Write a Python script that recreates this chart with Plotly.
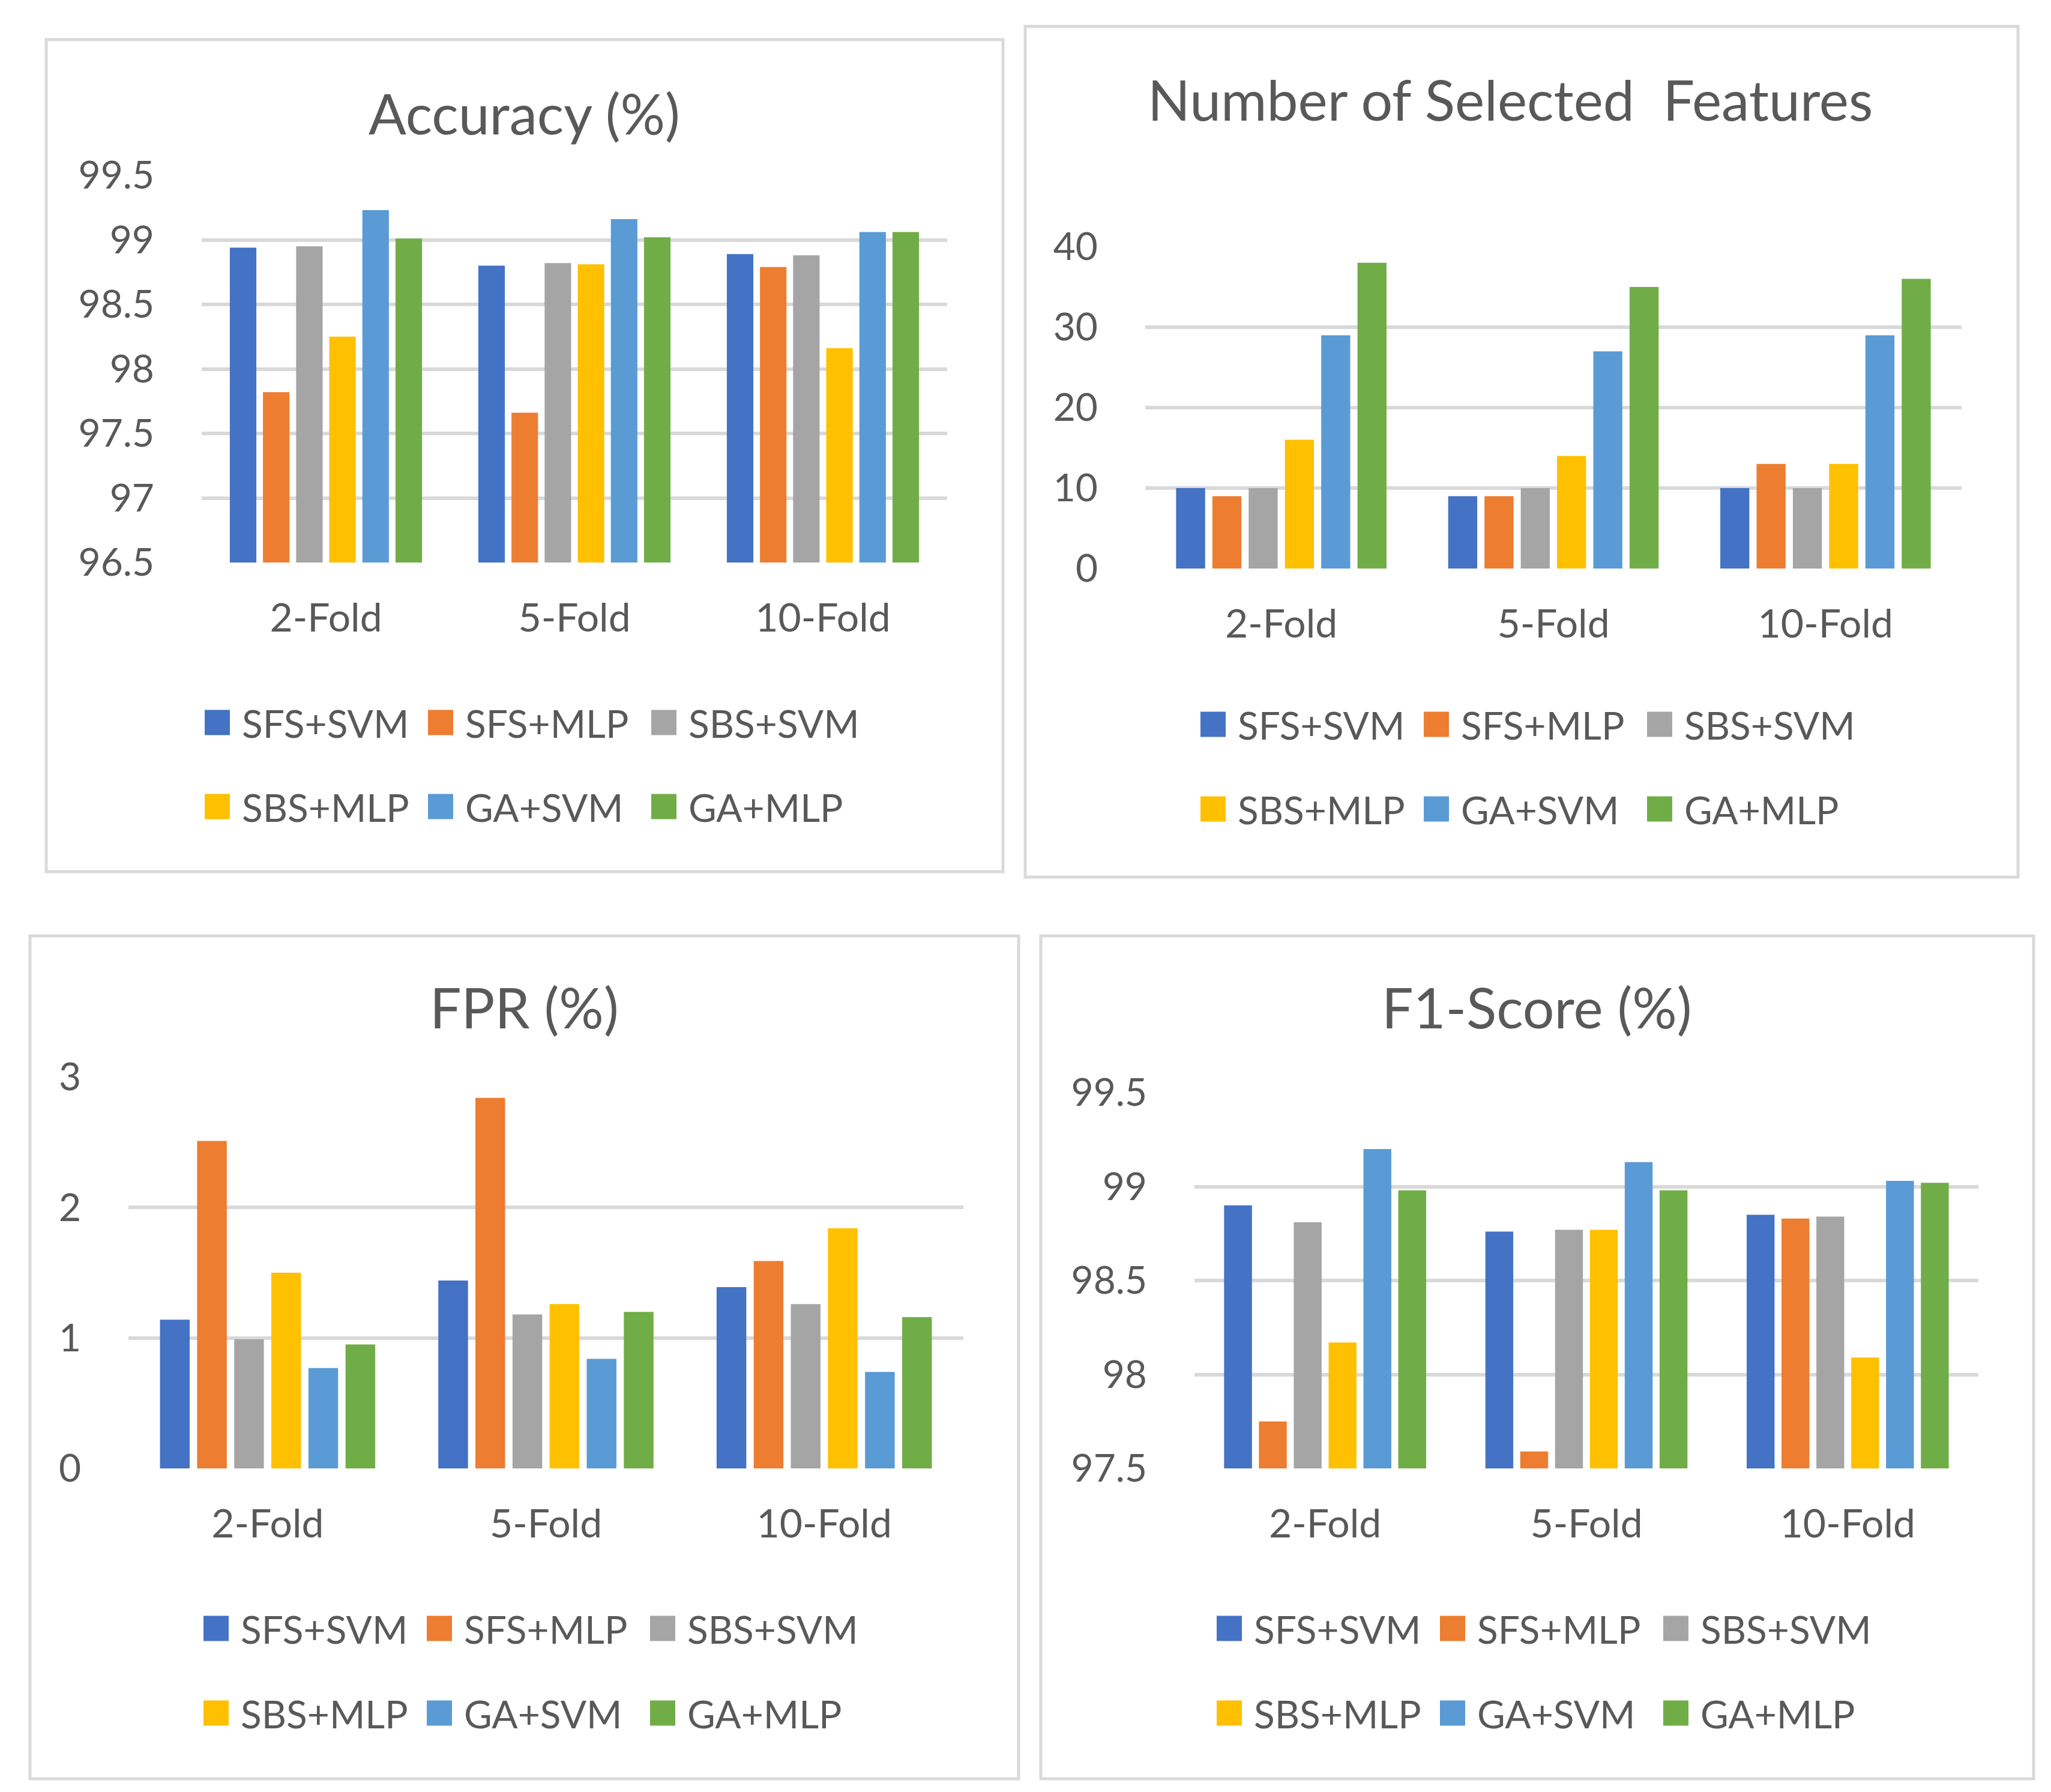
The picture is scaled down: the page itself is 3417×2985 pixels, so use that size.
import plotly.graph_objects as go

W, H = 3417, 2985

categories = ["2-Fold", "5-Fold", "10-Fold"]
methods = ["SFS+SVM", "SFS+MLP", "SBS+SVM", "SBS+MLP", "GA+SVM", "GA+MLP"]
colors = ["#4472C4", "#ED7D31", "#A5A5A5", "#FFC000", "#5B9BD5", "#70AD47"]

# values per method, in category order [2-Fold, 5-Fold, 10-Fold]
accuracy = [
    [98.94, 98.80, 98.89],  # SFS+SVM
    [97.82, 97.66, 98.79],  # SFS+MLP
    [98.95, 98.82, 98.88],  # SBS+SVM
    [98.25, 98.81, 98.16],  # SBS+MLP
    [99.23, 99.16, 99.06],  # GA+SVM
    [99.01, 99.02, 99.06],  # GA+MLP
]
features = [
    [10, 9, 10],
    [9, 9, 13],
    [10, 10, 10],
    [16, 14, 13],
    [29, 27, 29],
    [38, 35, 36],
]
fpr = [
    [1.14, 1.44, 1.39],
    [2.51, 2.84, 1.59],
    [0.99, 1.18, 1.26],
    [1.50, 1.26, 1.84],
    [0.77, 0.84, 0.74],
    [0.95, 1.20, 1.16],
]
f1 = [
    [98.90, 98.76, 98.85],
    [97.75, 97.59, 98.83],
    [98.81, 98.77, 98.84],
    [98.17, 98.77, 98.09],
    [99.20, 99.13, 99.03],
    [98.98, 98.98, 99.02],
]

acc_ticks = [96.5, 97, 97.5, 98, 98.5, 99, 99.5]
acc_ticktext = ["96.5", "97", "97.5", "98", "98.5", "99", "99.5"]
feat_ticks = [0, 10, 20, 30, 40]
feat_ticktext = ["0", "10", "20", "30", "40"]
fpr_ticks = [0, 1, 2, 3]
fpr_ticktext = ["0", "1", "2", "3"]
f1_ticks = [97.5, 98, 98.5, 99, 99.5]
f1_ticktext = ["97.5", "98", "98.5", "99", "99.5"]

titles = ["Accuracy (%)", "Number of Selected  Features", "FPR (%)", "F1-Score (%)"]

TEXT = "#595959"
GRID = "#D9D9D9"
FONT = "Lato, Carlito, sans-serif"


def fx(x):
    return x / W


def fy(y):
    return 1 - y / H


panels = [
    dict(data=accuracy, tv=acc_ticks, tt=acc_ticktext, rng=[96.5, 99.5],
         box=(77, 66, 1671, 1452), plot=(336, 292, 1578, 937), title_xy=(874, 188),
         leg_x=321, leg_rows=(1204, 1344)),
    dict(data=features, tv=feat_ticks, tt=feat_ticktext, rng=[0, 40],
         box=(1708, 44, 3362, 1461), plot=(1908, 411, 3268, 947), title_xy=(2516, 165),
         leg_x=1980, leg_rows=(1207, 1348)),
    dict(data=fpr, tv=fpr_ticks, tt=fpr_ticktext, rng=[0, 3],
         box=(50, 1559, 1697, 2963), plot=(214, 1794, 1605, 2446), title_xy=(873, 1677),
         leg_x=319, leg_rows=(2713, 2854)),
    dict(data=f1, tv=f1_ticks, tt=f1_ticktext, rng=[97.5, 99.5],
         box=(1734, 1559, 3388, 2963), plot=(1990, 1820, 3296, 2446), title_xy=(2560, 1677),
         leg_x=2007, leg_rows=(2713, 2854)),
]

fig = go.Figure()
layout = dict(
    width=W, height=H,
    margin=dict(l=0, r=0, t=0, b=0, pad=0, autoexpand=False),
    paper_bgcolor="white", plot_bgcolor="white",
    font=dict(family=FONT, color=TEXT, size=64),
    barmode="group", bargap=0.2, bargroupgap=0.2,
    showlegend=True,
)
shapes = []
annotations = []

for i, p in enumerate(panels):
    n = i + 1
    xa = "x" if n == 1 else f"x{n}"
    ya = "y" if n == 1 else f"y{n}"
    for j, m in enumerate(methods):
        k = 2 * i + (j // 3) + 1
        leg = "legend" if k == 1 else f"legend{k}"
        fig.add_trace(go.Bar(
            x=categories, y=p["data"][j], name=m,
            marker=dict(color=colors[j], line=dict(width=0)),
            xaxis=xa, yaxis=ya, legend=leg,
        ))
    x0, y0, x1, y1 = p["plot"]
    layout["xaxis" if n == 1 else f"xaxis{n}"] = dict(
        domain=[fx(x0), fx(x1)], anchor=ya, type="category",
        showgrid=False, showline=False, zeroline=False, ticks="",
        tickfont=dict(size=66, color=TEXT), ticklabelstandoff=48,
        automargin=False, fixedrange=True,
    )
    layout["yaxis" if n == 1 else f"yaxis{n}"] = dict(
        domain=[fy(y1), fy(y0)], anchor=xa, range=p["rng"],
        tickvals=p["tv"], ticktext=p["tt"],
        showgrid=True, gridcolor=GRID, gridwidth=6,
        showline=False, zeroline=False, ticks="",
        tickfont=dict(size=64, color=TEXT), ticklabelstandoff=78,
        automargin=False, fixedrange=True,
    )
    bx0, by0, bx1, by1 = p["box"]
    shapes.append(dict(type="rect", xref="paper", yref="paper",
                       x0=fx(bx0), x1=fx(bx1), y0=fy(by1), y1=fy(by0),
                       line=dict(color=GRID, width=5), fillcolor="rgba(0,0,0,0)",
                       layer="below"))
    tx, ty = p["title_xy"]
    annotations.append(dict(text=titles[i], xref="paper", yref="paper",
                            x=fx(tx), y=fy(ty), xanchor="center", yanchor="middle",
                            showarrow=False, font=dict(size=93, color=TEXT, family=FONT)))
    for r in range(2):
        k = 2 * i + r + 1
        leg = "legend" if k == 1 else f"legend{k}"
        layout[leg] = dict(
            orientation="h", x=fx(p["leg_x"]), y=fy(p["leg_rows"][r]),
            xanchor="left", yanchor="middle",
            font=dict(size=64, color=TEXT, family=FONT),
            itemwidth=72, entrywidth=285, entrywidthmode="pixels",
            bgcolor="rgba(0,0,0,0)", borderwidth=0, traceorder="normal",
            itemclick=False, itemdoubleclick=False,
        )

layout["shapes"] = shapes
layout["annotations"] = annotations
fig.update_layout(**layout)

post = """
document.documentElement.style.margin = '0';
document.documentElement.style.overflow = 'hidden';
document.body.style.margin = '0';
document.body.style.padding = '0';
document.body.style.overflow = 'hidden';
var gd = document.getElementById('{plot_id}');
function bigKeys(){
  var ps = document.querySelectorAll('g.legendpoints path');
  for (var i = 0; i < ps.length; i++) {
    ps[i].setAttribute('d', 'M21,21H-21V-21H21Z');
  }
}
bigKeys();
if (gd && gd.on) { gd.on('plotly_afterplot', bigKeys); }
setTimeout(bigKeys, 50);
setTimeout(bigKeys, 300);
setTimeout(bigKeys, 1000);
"""

fig.write_html("out.html", post_script=post, config={"displayModeBar": False})
